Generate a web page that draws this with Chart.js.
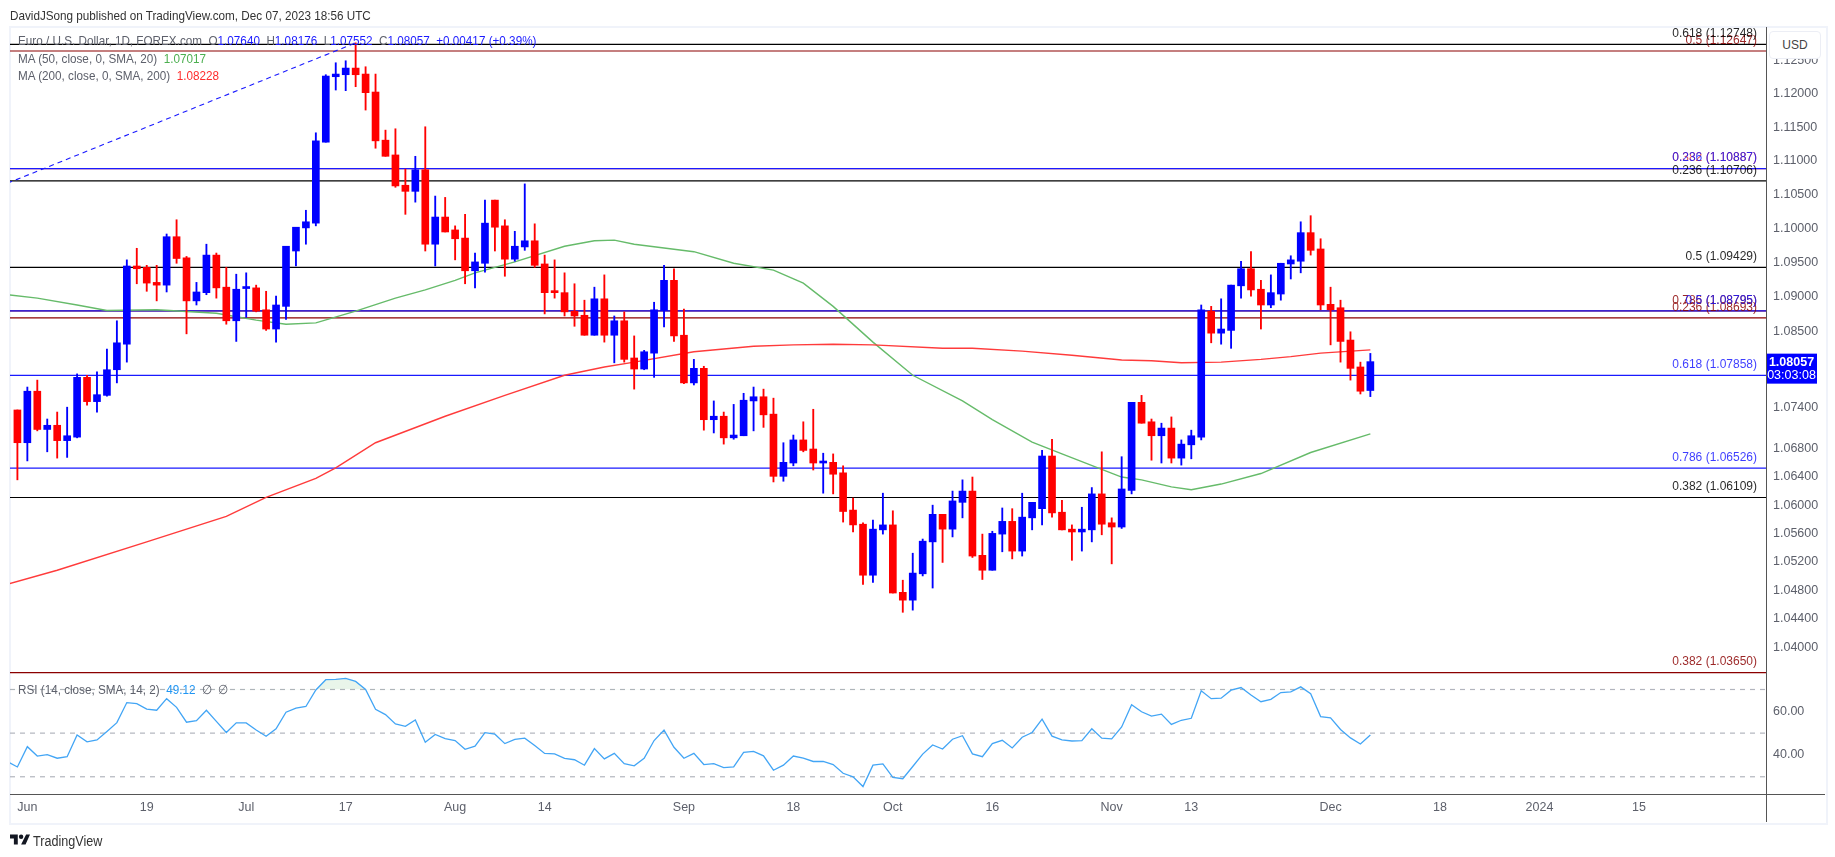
<!DOCTYPE html>
<html><head><meta charset="utf-8">
<script src="https://cdn.jsdelivr.net/npm/chart.js@4"></script>
<style>
html,body{margin:0;padding:0;background:#fff;width:1835px;height:857px;overflow:hidden;font-family:"Liberation Sans",sans-serif;}
.a{position:absolute;white-space:pre;}
.t{transform:scaleX(.9);transform-origin:left center;font-size:13px;line-height:16px;color:#5d606b}
canvas{position:absolute;left:0;}
</style></head><body>
<div class="a" style="left:9px;top:26px;width:1815px;height:795px;border:2px solid #f0f3fa"></div>
<canvas id="priceCanvas" style="top:0" width="1835" height="676"></canvas>
<canvas id="rsiCanvas" style="top:674px" width="1835" height="183"></canvas>
<div class="a t" style="left:10px;top:8px;color:#333">DavidJSong published on TradingView.com, Dec 07, 2023 18:56 UTC</div>
<div class="a t" style="left:18px;top:33px">Euro / U.S. Dollar, 1D, FOREX.com  O<span style="color:#1a1aff">1.07640</span>  H<span style="color:#1a1aff">1.08176</span>  L<span style="color:#1a1aff">1.07552</span>  C<span style="color:#1a1aff">1.08057</span>  <span style="color:#1a1aff">+0.00417 (+0.39%)</span></div>
<div class="a t" style="left:18px;top:51px">MA (50, close, 0, SMA, 20)  <span style="color:#4caf50">1.07017</span></div>
<div class="a t" style="left:18px;top:68px">MA (200, close, 0, SMA, 200)  <span style="color:#ff2d2d">1.08228</span></div>
<div class="a t" style="left:18px;top:682px">RSI (14, close, SMA, 14, 2)  <span style="color:#2196f3">49.12</span>  ∅  ∅</div>
<div class="a" style="left:1766px;top:27px;width:1.4px;height:795px;background:#555"></div>
<div class="a" style="left:10px;top:794px;width:1815px;height:1.4px;background:#555"></div>
<div class="a" style="left:1769px;top:31px;width:50px;height:26px;border:1px solid #eceef5;border-radius:4px;background:#fff;font-size:12px;line-height:26px;color:#444;text-align:center">USD</div>
<svg class="a" style="left:10px;top:833px" width="20" height="13" viewBox="0 0 36 18"><path fill="#131722" d="M14 18H7V7H0V0h14v18zM28 18h-8L29 0h7l-8 18z"/><circle cx="20" cy="4" r="4" fill="#131722"/></svg>
<div class="a t" style="left:33px;top:832px;font-size:14px;line-height:18px;color:#333">TradingView</div>
<script>
// Daily candles: May 31 2023 (index 0) to Dec 07 2023 (index 136)
const open=[1.0736,1.0689,1.0763,1.0708,1.0714,1.0692,1.0697,1.0783,1.0748,1.0757,
1.0794,1.0831,1.0945,1.0943,1.0921,1.0917,1.0988,1.0957,1.0894,1.0906,
1.0961,1.0914,1.0865,1.0912,1.0913,1.0881,1.0853,1.0886,1.0967,1.1001,
1.1008,1.1128,1.1226,1.1229,1.1239,1.1230,1.1203,1.1131,1.1109,1.1064,
1.1055,1.1087,1.0977,1.1017,1.0998,1.0986,1.0938,1.0949,1.1042,1.1004,
1.0955,1.0973,1.0982,1.0948,1.0907,1.0906,1.0879,1.0873,1.0844,1.0897,
1.0844,1.0865,1.0811,1.0795,1.0818,1.0880,1.0924,1.0844,1.0775,1.0796,
1.0722,1.0727,1.0696,1.0699,1.0749,1.0755,1.0730,1.0641,1.0660,1.0693,
1.0680,1.0660,1.0661,1.0646,1.0593,1.0573,1.0501,1.0565,1.0572,1.0477,
1.0466,1.0503,1.0548,1.0587,1.0566,1.0604,1.0620,1.0529,1.0508,1.0559,
1.0577,1.0535,1.0582,1.0595,1.0670,1.0590,1.0566,1.0562,1.0565,1.0616,
1.0575,1.0569,1.0621,1.0747,1.0719,1.0699,1.0710,1.0667,1.0686,1.0697,
1.0879,1.0847,1.0851,1.0916,1.0941,1.0911,1.0888,1.0904,1.0948,1.0952,
1.0994,1.0970,1.0889,1.0884,1.0837,1.0798,1.0764];
const high=[1.0736,1.0769,1.0779,1.0723,1.0733,1.0740,1.0788,1.0786,1.0791,1.0824,
1.0865,1.0954,1.0971,1.0946,1.0946,1.0992,1.1013,1.0959,1.0921,1.0977,
1.0964,1.0943,1.0933,1.0935,1.0917,1.0908,1.0901,1.0974,1.1002,1.1027,
1.1142,1.1229,1.1247,1.1250,1.1277,1.1241,1.1230,1.1146,1.1148,1.1088,
1.1107,1.1151,1.1048,1.1046,1.1004,1.1021,1.0964,1.1042,1.1042,1.1013,
1.0996,1.1066,1.1007,1.0961,1.0954,1.0935,1.0919,1.0895,1.0914,1.0932,
1.0872,1.0878,1.0843,1.0822,1.0892,1.0946,1.0941,1.0882,1.0809,1.0799,
1.0749,1.0733,1.0744,1.0760,1.0769,1.0766,1.0753,1.0689,1.0700,1.0719,
1.0737,1.0674,1.0673,1.0656,1.0610,1.0575,1.0579,1.0617,1.0592,1.0494,
1.0532,1.0552,1.0600,1.0587,1.0620,1.0636,1.0640,1.0559,1.0563,1.0596,
1.0595,1.0617,1.0604,1.0678,1.0694,1.0607,1.0572,1.0597,1.0625,1.0676,
1.0582,1.0669,1.0747,1.0757,1.0723,1.0717,1.0726,1.0693,1.0707,1.0888,
1.0886,1.0897,1.0917,1.0952,1.0966,1.0924,1.0932,1.0949,1.0960,1.1010,
1.1019,1.0985,1.0914,1.0895,1.0849,1.0805,1.08176];
const low=[1.0636,1.0663,1.0706,1.0676,1.0667,1.0668,1.0696,1.0743,1.0733,1.0756,
1.0775,1.0805,1.0919,1.0908,1.0894,1.0907,1.0949,1.0846,1.0888,1.0903,
1.0898,1.0860,1.0835,1.0870,1.0878,1.0851,1.0834,1.0867,1.0945,1.0977,
1.1004,1.1128,1.1206,1.1205,1.1211,1.1176,1.1119,1.1107,1.1061,1.1021,
1.1039,1.0967,1.0945,1.0995,1.0954,1.0919,1.0913,1.0936,1.0967,1.0930,
1.0952,1.0968,1.0943,1.0875,1.0898,1.0872,1.0857,1.0844,1.0844,1.0834,
1.0804,1.0805,1.0766,1.0794,1.0783,1.0856,1.0835,1.0774,1.0772,1.0707,
1.0703,1.0687,1.0694,1.0699,1.0706,1.0711,1.0633,1.0634,1.0656,1.0676,
1.0650,1.0617,1.0616,1.0576,1.0562,1.0488,1.0491,1.0559,1.0476,1.0449,
1.0452,1.0500,1.0483,1.0519,1.0555,1.0582,1.0526,1.0495,1.0508,1.0534,
1.0524,1.0528,1.0565,1.0572,1.0583,1.0565,1.0522,1.0535,1.0548,1.0558,
1.0517,1.0567,1.0616,1.0717,1.0664,1.0660,1.0660,1.0657,1.0666,1.0693,
1.0833,1.0831,1.0825,1.0898,1.0901,1.0853,1.0884,1.0895,1.0926,1.0935,
1.0961,1.0881,1.0830,1.0805,1.0779,1.0759,1.07552];
const close=[1.0689,1.0763,1.0708,1.0714,1.0692,1.0699,1.0783,1.0748,1.0758,1.0794,
1.0833,1.0945,1.0941,1.0920,1.0917,1.0988,1.0956,1.0894,1.0907,1.0961,
1.0913,1.0865,1.0911,1.0913,1.0879,1.0853,1.0888,1.0974,1.1002,1.1010,
1.1130,1.1227,1.1230,1.1239,1.1229,1.1202,1.1130,1.1107,1.1063,1.1055,
1.1087,1.0977,1.1017,1.0995,1.0985,1.0938,1.0951,1.1008,1.1002,1.0955,
1.0974,1.0982,1.0946,1.0906,1.0906,1.0878,1.0872,1.0844,1.0897,1.0844,
1.0865,1.0809,1.0795,1.0820,1.0881,1.0924,1.0843,1.0775,1.0796,1.0722,
1.0727,1.0696,1.0700,1.0750,1.0755,1.0729,1.0641,1.0661,1.0693,1.0678,
1.0660,1.0661,1.0644,1.0591,1.0572,1.0501,1.0566,1.0572,1.0476,1.0466,
1.0504,1.0549,1.0587,1.0566,1.0606,1.0620,1.0528,1.0508,1.0560,1.0577,
1.0535,1.0583,1.0604,1.0670,1.0589,1.0565,1.0562,1.0566,1.0616,1.0573,
1.0569,1.0623,1.0747,1.0717,1.0699,1.0710,1.0667,1.0687,1.0699,1.0881,
1.0847,1.0853,1.0917,1.0941,1.0910,1.0888,1.0906,1.0949,1.0954,1.0994,
1.0968,1.0888,1.0881,1.0835,1.0796,1.0763,1.08057];
// Moving averages read at the bar indexes in the *Idx lists
const ma200Idx=[-1,4,13,21,25,30,32,36,43,49,55,59,62,68,74,78,82,86,93,96,101,106,111,114,117,121,125,128,131,136];
const ma200=[1.04885,1.0508,1.0548,1.0584,1.0611,1.0638,1.0653,1.0689,1.0727,1.0757,1.0786,1.0798,1.0805,1.0820,1.0828,1.0830,1.0831,1.0830,1.0825,1.0825,1.0821,1.0815,1.0808,1.0807,1.0804,1.0805,1.0809,1.0813,1.0818,1.08228];
const ma50Idx=[-1,2,6,9,14,20,24,27,30,34,38,41,44,46,50,55,58,60,62,68,72,76,79,82,86,90,95,98,102,105,109,111,113,116,118,121,125,130,136];
const ma50=[1.0903,1.0898,1.0888,1.0880,1.0881,1.0876,1.0866,1.0860,1.0862,1.0879,1.0898,1.0910,1.0924,1.0935,1.0951,1.0974,1.0982,1.0983,1.0977,1.0966,1.0949,1.0939,1.0920,1.0886,1.0834,1.0786,1.0749,1.0722,1.0690,1.0673,1.0651,1.0640,1.0636,1.0626,1.0622,1.0630,1.0645,1.0675,1.07017];
// RSI for bar indexes -1 .. 136
const rsi=[37,34.5,43.8,39.5,40.1,38.5,39.2,49.2,46,46.9,50.8,54.8,64,63.5,61,60.5,65.8,61.8,55,55.7,60.5,55.4,50.3,54.7,54.7,51.4,48.6,52,59.6,61.5,62.2,69.8,74.5,74.6,75.1,73.7,70,60.9,58.5,54.2,53.1,56,45.8,49.4,47.5,46.6,42.6,44,50.2,49.5,45.2,47.1,47.7,44.3,40.7,40.5,38.4,37.8,35.3,42.9,38.2,40.7,36,35,38.5,46.6,51.4,43.5,38.5,40.7,35.6,36,34.2,34.5,41.2,41.6,39.6,33,35.3,39.5,38.5,37,37,35.6,31.6,30,25.5,35.3,35.9,29.7,29.1,34.7,40.4,44.6,42.7,47.2,48.8,40.5,39.2,45.2,46.7,43.2,48.1,50.3,56.4,48.6,46.9,46.4,46.6,52,47.7,47.4,52.8,63,59.8,57.8,58.7,54,55.9,56.8,69.4,65.8,66,69.7,70.9,67.5,64.4,65.5,68.6,68.9,71.2,68.1,57.6,57,51.7,47.8,45,49.12];
const rsiLevels=[70,50,30];
const rsiTicks=[60,40];
// Fibonacci levels (first in the list is drawn on top)
const fibValues=[1.12748,1.12647,1.10887,1.10887,1.10706,1.09429,1.08795,1.08795,1.08693,1.07858,1.06526,1.06109,1.03650];
const fibRatios=["0.618","0.5","0.236","0.382","0.236","0.5","0.5","0.786","0.236","0.618","0.786","0.382","0.382"];
const fibColors=["#000000","#8b0000","#1a1aff","#e03030","#000000","#000000","#1a1aff","#8b0000","#8b0000","#1a1aff","#1a1aff","#000000","#8b0000"];
const trendIdx=[-1,34];
const trendVal=[1.1067,1.1277];
const priceTicks=[1.125,1.12,1.115,1.11,1.105,1.1,1.095,1.09,1.085,1.074,1.068,1.064,1.06,1.056,1.052,1.048,1.044,1.04];
const timeTickIdx=[1,13,23,33,44,53,67,78,88,98,110,118,132,143,153,163];
const timeTickLabels=["Jun","19","Jul","17","Aug","14","Sep","18","Oct","16","Nov","13","Dec","18","2024","15"];
const lastPrice="1.08057", countdown="03:03:08";

const UP="#0000ff",DOWN="#ff0000";
const xMin=-0.744,xMax=175.77;
const FONT='"Liberation Sans",sans-serif';
const NARROW='"Liberation Sans Narrow","Liberation Sans",sans-serif';
Chart.defaults.font.family=NARROW;
Chart.defaults.animation=false;
const colors=open.map((o,i)=>close[i]>=o?UP:DOWN);
const ln=(x,y,c,w,extra)=>Object.assign({type:"line",data:x.map((v,i)=>({x:v,y:y[i]})),borderColor:c,borderWidth:w,pointRadius:0,tension:0,order:5},extra||{});
const fibLines=fibValues.map((v,i)=>ln([xMin,xMax],[v,v],fibColors[i],1.2));

const fibLabelPlugin={id:"fibLabels",afterDatasetsDraw(ch){
  const c=ch.ctx,s=ch.scales.y;
  c.save();c.font="12px "+FONT;c.textAlign="right";c.textBaseline="middle";
  for(let i=fibValues.length-1;i>=0;i--){const v=fibValues[i];c.fillStyle=fibColors[i];c.globalAlpha=.85;
    c.fillText(fibRatios[i]+" ("+v.toFixed(5)+")",1757,s.getPixelForValue(v)-10.5);}
  c.globalAlpha=1;
  const y=s.getPixelForValue(+lastPrice);
  c.fillStyle="#0000ff";c.fillRect(1766,y-8,51,30);
  c.fillStyle="#fff";c.textAlign="center";
  c.font="bold 12.5px "+NARROW;c.fillText(lastPrice,1791.5,y+1);
  c.font="12.5px "+NARROW;c.fillText(countdown,1791.5,y+14);
  c.restore();
}};

new Chart(document.getElementById("priceCanvas"),{
  type:"bar",
  data:{datasets:[
    {data:open.map((o,i)=>({x:i,y:[o,close[i]]})),backgroundColor:colors,barThickness:7,minBarLength:2,grouped:false,order:1},
    {data:low.map((l,i)=>({x:i,y:[l,high[i]]})),backgroundColor:colors,barThickness:1.2,grouped:false,order:2},
    ln(ma200Idx,ma200,"#ff3b3b",1.4,{order:4}),
    ln(ma50Idx,ma50,"#66bb6a",1.4,{order:4}),
    ln(trendIdx,trendVal,"#1a1aff",1.1,{borderDash:[5,4],order:4}),
    ...fibLines
  ]},
  options:{
    responsive:false,devicePixelRatio:1,
    layout:{padding:{left:10,top:27,right:9,bottom:2}},
    plugins:{legend:{display:false},tooltip:{enabled:false}},
    scales:{
      x:{type:"linear",bounds:"data",min:xMin,max:xMax,display:false,offset:false},
      y:{type:"logarithmic",position:"right",bounds:"data",min:1.0363,max:1.1301,
        grid:{display:false,drawTicks:false},border:{display:false},
        afterFit(s){s.width=60;s.paddingTop=0;s.paddingBottom=0;},
        afterBuildTicks(s){s.ticks=priceTicks.map(v=>({value:v}));},
        ticks:{autoSkip:false,padding:7,color:"#5d606b",font:{size:12.5},maxRotation:0,callback:v=>Number(v).toFixed(5)}}
    }
  },
  plugins:[fibLabelPlugin]
});

new Chart(document.getElementById("rsiCanvas"),{
  type:"line",
  data:{datasets:[
    ln(rsi.map((_,i)=>i-1),rsi,"#42a5f5",1.3,{order:1,fill:{target:{value:70},above:"rgba(76,175,80,.12)",below:"rgba(0,0,0,0)"}}),
    ...rsiLevels.map(v=>ln([xMin,xMax],[v,v],"#b2b5be",1.2,{borderDash:[5,5],order:3}))
  ]},
  options:{
    responsive:false,devicePixelRatio:1,
    layout:{padding:{left:10,top:0,right:9,bottom:35}},
    plugins:{legend:{display:false},tooltip:{enabled:false}},
    scales:{
      x:{type:"linear",bounds:"data",min:xMin,max:xMax,
        grid:{display:false,drawTicks:false},border:{display:false},
        afterFit(s){s.height=28;},
        afterBuildTicks(s){s.ticks=timeTickIdx.map(v=>({value:v}));},
        ticks:{autoSkip:false,maxRotation:0,padding:6,color:"#5d606b",font:{size:12.5},
          callback:v=>timeTickLabels[timeTickIdx.indexOf(v)]}},
      y:{type:"linear",position:"right",bounds:"data",min:22.1,max:77.1,
        grid:{display:false,drawTicks:false},border:{display:false},
        afterFit(s){s.width=60;s.paddingTop=0;s.paddingBottom=0;},
        afterBuildTicks(s){s.ticks=rsiTicks.map(v=>({value:v}));},
        ticks:{autoSkip:false,padding:7,color:"#5d606b",font:{size:12.5},callback:v=>Number(v).toFixed(2)}}
    }
  }
});
</script>
</body></html>
